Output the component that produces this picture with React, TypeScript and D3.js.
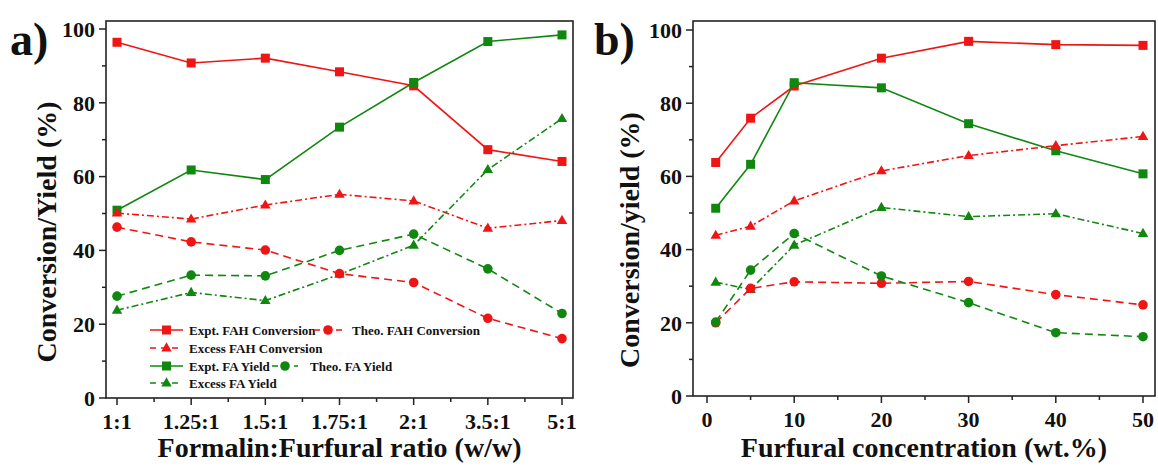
import React from "react";
import * as d3 from "d3";

// ---------- Panel a data ----------
const ratioCategories = ["1:1", "1.25:1", "1.5:1", "1.75:1", "2:1", "3.5:1", "5:1"];
const aExptFAHConversion = [96.4, 90.8, 92.1, 88.4, 84.6, 67.3, 64.1];
const aTheoFAHConversion = [46.3, 42.3, 40.1, 33.7, 31.3, 21.6, 16.1];
const aExcessFAHConversion = [50.1, 48.5, 52.3, 55.2, 53.4, 46.0, 48.1];
const aExptFAYield = [50.9, 61.8, 59.2, 73.4, 85.5, 96.6, 98.4];
const aTheoFAYield = [27.6, 33.3, 33.1, 40.0, 44.4, 35.0, 22.9];
const aExcessFAYield = [23.8, 28.6, 26.4, 33.5, 41.4, 61.9, 75.7];

// ---------- Panel b data ----------
const furfuralConc = [1, 5, 10, 20, 30, 40, 50];
const bExptFAHConversion = [63.8, 75.9, 84.7, 92.3, 96.9, 96.0, 95.8];
const bTheoFAHConversion = [20.0, 29.4, 31.2, 30.8, 31.3, 27.7, 24.9];
const bExcessFAHConversion = [43.9, 46.4, 53.3, 61.5, 65.7, 68.4, 70.9];
const bExptFAYield = [51.3, 63.3, 85.6, 84.2, 74.4, 67.0, 60.7];
const bTheoFAYield = [20.2, 34.4, 44.4, 32.8, 25.5, 17.3, 16.2];
const bExcessFAYield = [31.1, 29.1, 41.2, 51.5, 49.0, 49.8, 44.4];

const yMajorTicks = [0, 20, 40, 60, 80, 100];
const yMinorTicks = [10, 30, 50, 70, 90];
const bXMajorTicks = [0, 10, 20, 30, 40, 50];
const bXMinorTicks = [5, 15, 25, 35, 45];

const seriesNames = [
  "Expt. FAH Conversion",
  "Theo. FAH Conversion",
  "Excess FAH Conversion",
  "Expt. FA Yield",
  "Theo. FA Yield",
  "Excess FA Yield",
];

const RED = "#f01515";
const GREEN = "#108810";
const FONT = "'Liberation Serif', 'Times New Roman', serif";
const FRAME = "#222";

type Style = { color: string; dash: string; marker: "square" | "circle" | "triangle" };
const styles: Style[] = [
  { color: RED, dash: "", marker: "square" },
  { color: RED, dash: "8,5", marker: "circle" },
  { color: RED, dash: "7,3,2,3", marker: "triangle" },
  { color: GREEN, dash: "", marker: "square" },
  { color: GREEN, dash: "8,5", marker: "circle" },
  { color: GREEN, dash: "7,3,2,3", marker: "triangle" },
];

function Marker({ x, y, kind, color }: { x: number; y: number; kind: string; color: string }) {
  if (kind === "square") return <rect x={x - 4.5} y={y - 4.5} width={9} height={9} fill={color} />;
  if (kind === "circle") return <circle cx={x} cy={y} r={4.8} fill={color} />;
  const s = 10.5;
  const h = s * 0.866;
  return (
    <path
      d={`M${x},${y - h * 0.62} L${x + s / 2},${y + h * 0.38} L${x - s / 2},${y + h * 0.38} Z`}
      fill={color}
    />
  );
}

function Panel({
  left,
  right,
  top,
  bottom,
  y100,
  xPos,
  seriesData,
  xMajor,
  xMinor,
  xTitle,
  yTitle,
  yTitleX,
  yTitleY,
  label,
  labelX,
  children,
}: any) {
  const y = d3.scaleLinear().domain([0, 100]).range([bottom, y100]);
  const line = d3
    .line<[number, number]>()
    .x((d) => d[0])
    .y((d) => d[1]);
  const order = [0, 3, 2, 5, 1, 4];
  return (
    <g>
      {/* series */}
      {order.map((si) => {
        const vals: number[] = seriesData[si];
        const st = styles[si];
        const pts: [number, number][] = vals.map((v, i) => [xPos(i), y(v)]);
        return (
          <g key={si}>
            <path
              d={line(pts) || ""}
              fill="none"
              stroke={st.color}
              strokeWidth={1.6}
              strokeDasharray={st.dash}
            />
            {pts.map((p, i) => (
              <Marker key={i} x={p[0]} y={p[1]} kind={st.marker} color={st.color} />
            ))}
          </g>
        );
      })}
      {/* frame */}
      <rect x={left} y={top} width={right - left} height={bottom - top} fill="none" stroke={FRAME} strokeWidth={1.6} />
      {/* y ticks */}
      {yMajorTicks.map((t) => (
        <g key={"ym" + t}>
          <line x1={left - 7} x2={left} y1={y(t)} y2={y(t)} stroke={FRAME} strokeWidth={1.5} />
          <text
            x={left - 11}
            y={y(t)}
            dy="0.35em"
            textAnchor="end"
            fontFamily={FONT}
            fontWeight="bold"
            fontSize={22}
            fill="#111"
          >
            {t}
          </text>
        </g>
      ))}
      {yMinorTicks.map((t) => (
        <line key={"yn" + t} x1={left - 4} x2={left} y1={y(t)} y2={y(t)} stroke={FRAME} strokeWidth={1.5} />
      ))}
      {/* x ticks */}
      {xMajor.map((t: any) => (
        <g key={"xm" + t.label}>
          <line x1={t.pos} x2={t.pos} y1={bottom} y2={bottom + 7} stroke={FRAME} strokeWidth={1.5} />
          <text
            x={t.pos}
            y={bottom + 31}
            textAnchor="middle"
            fontFamily={FONT}
            fontWeight="bold"
            fontSize={22}
            fill="#111"
          >
            {t.label}
          </text>
        </g>
      ))}
      {xMinor.map((p: number, i: number) => (
        <line key={"xn" + i} x1={p} x2={p} y1={bottom} y2={bottom + 4} stroke={FRAME} strokeWidth={1.5} />
      ))}
      <text
        x={(left + right) / 2}
        y={457}
        textAnchor="middle"
        fontFamily={FONT}
        fontWeight="bold"
        fontSize={28}
        fill="#111"
      >
        {xTitle}
      </text>
      <text
        transform={`translate(${yTitleX},${yTitleY}) rotate(-90)`}
        textAnchor="middle"
        fontFamily={FONT}
        fontWeight="bold"
        fontSize={28}
        fill="#111"
      >
        {yTitle}
      </text>
      <text x={labelX} y={55} fontFamily={FONT} fontWeight="bold" fontSize={46} fill="#111">
        {label}
      </text>
      {children}
    </g>
  );
}

function LegendItem({ x, y, si, lineLen = 33, textGap = 6 }: any) {
  const st = styles[si];
  return (
    <g>
      <line
        x1={x}
        x2={x + lineLen}
        y1={y}
        y2={y}
        stroke={st.color}
        strokeWidth={1.6}
        strokeDasharray={st.dash ? "6,5" : ""}
      />
      <Marker x={x + lineLen / 2} y={y} kind={st.marker} color={st.color} />
      <text
        x={x + lineLen + textGap}
        y={y}
        dy="0.35em"
        fontFamily={FONT}
        fontWeight="bold"
        fontSize={13}
        fill="#111"
      >
        {seriesNames[si]}
      </text>
    </g>
  );
}

export default function App() {
  // Panel a
  const xa = d3.scalePoint<string>().domain(ratioCategories).range([117, 562]);
  const aData = [
    aExptFAHConversion,
    aTheoFAHConversion,
    aExcessFAHConversion,
    aExptFAYield,
    aTheoFAYield,
    aExcessFAYield,
  ];
  const aMajor = ratioCategories.map((c) => ({ label: c, pos: xa(c) as number }));
  const aMinor = ratioCategories.slice(1).map((c, i) => ((xa(c) as number) + (xa(ratioCategories[i]) as number)) / 2);

  // Panel b
  const xb = d3.scaleLinear().domain([0, 50]).range([707, 1143]);
  const bData = [
    bExptFAHConversion,
    bTheoFAHConversion,
    bExcessFAHConversion,
    bExptFAYield,
    bTheoFAYield,
    bExcessFAYield,
  ];
  const bMajor = bXMajorTicks.map((t) => ({ label: String(t), pos: xb(t) }));
  const bMinor = bXMinorTicks.map((t) => xb(t));

  return (
    <svg
      width={1158}
      height={468}
      style={{ position: "absolute", left: 0, top: 0, background: "#fff" }}
    >
      <rect width={1158} height={468} fill="#fff" />
      <Panel
        left={106}
        right={573}
        top={21}
        bottom={398}
        y100={29}
        xPos={(i: number) => xa(ratioCategories[i]) as number}
        seriesData={aData}
        xMajor={aMajor}
        xMinor={aMinor}
        xTitle="Formalin:Furfural ratio (w/w)"
        yTitle="Conversion/Yield (%)"
        yTitleX={56}
        yTitleY={232}
        label="a)"
        labelX={10}
      >
        <LegendItem x={150} y={330} si={0} />
        <LegendItem x={314} y={330} si={1} lineLen={28} textGap={10} />
        <LegendItem x={150} y={348} si={2} />
        <LegendItem x={150} y={366} si={3} />
        <LegendItem x={272} y={366} si={4} lineLen={26} textGap={12} />
        <LegendItem x={150} y={383} si={5} />
      </Panel>
      <Panel
        left={693}
        right={1155}
        top={21}
        bottom={396}
        y100={30}
        xPos={(i: number) => xb(furfuralConc[i])}
        seriesData={bData}
        xMajor={bMajor}
        xMinor={bMinor}
        xTitle="Furfural concentration (wt.%)"
        yTitle="Conversion/yield (%)"
        yTitleX={639}
        yTitleY={240}
        label="b)"
        labelX={594}
      />
    </svg>
  );
}
